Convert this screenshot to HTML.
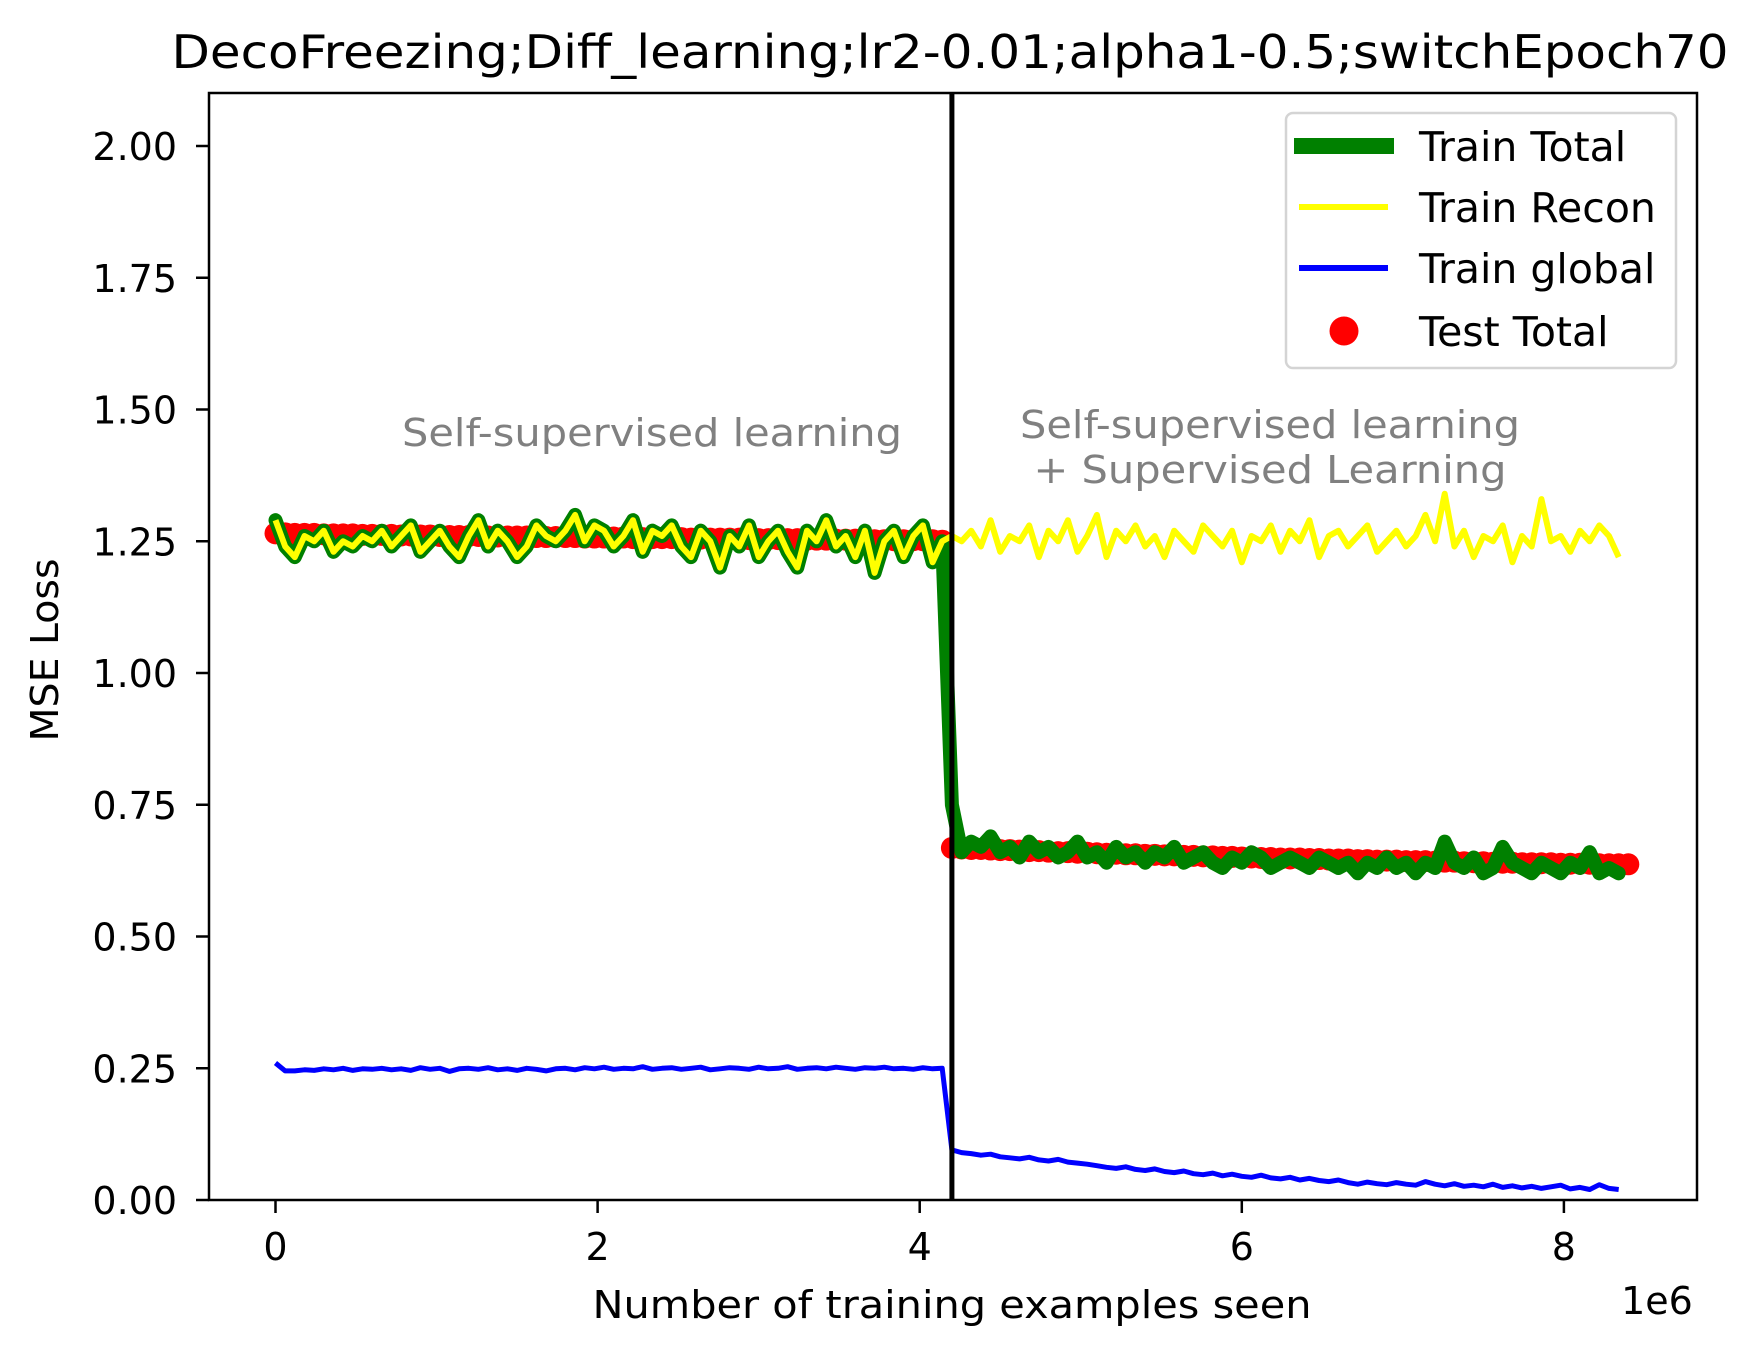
<!DOCTYPE html>
<html><head><meta charset="utf-8"><style>
html,body{margin:0;padding:0;background:#fff;}
svg{display:block;font-family:"DejaVu Sans","Liberation Sans",sans-serif;}
</style></head><body>
<svg id="chart" width="1763" height="1357" viewBox="0 0 1763 1357" xmlns="http://www.w3.org/2000/svg">
<rect x="0" y="0" width="1763" height="1357" fill="#fff"/>
<text x="950" y="68" font-size="46" text-anchor="middle" textLength="1557" lengthAdjust="spacingAndGlyphs">DecoFreezing;Diff_learning;lr2-0.01;alpha1-0.5;switchEpoch70</text>
<g id="plot"></g>
<rect x="209" y="93" width="1488" height="1107" fill="none" stroke="#000" stroke-width="2.5"/>
<text x="652" y="446" font-size="38" fill="#808080" text-anchor="middle" textLength="500" lengthAdjust="spacingAndGlyphs">Self-supervised learning</text>
<text x="1270" y="438" font-size="38" fill="#808080" text-anchor="middle" textLength="500" lengthAdjust="spacingAndGlyphs">Self-supervised learning</text>
<text x="1270" y="483" font-size="38" fill="#808080" text-anchor="middle" textLength="473" lengthAdjust="spacingAndGlyphs">+ Supervised Learning</text>
<g id="axes"></g>
<text x="952" y="1318" font-size="38" text-anchor="middle" textLength="719" lengthAdjust="spacingAndGlyphs">Number of training examples seen</text>
<text x="1657" y="1314" font-size="38" text-anchor="middle">1e6</text>
<text x="0" y="0" font-size="38" text-anchor="middle" textLength="183" lengthAdjust="spacingAndGlyphs" transform="translate(58,650) rotate(-90)">MSE Loss</text>
<g>
<rect x="1286" y="113" width="390" height="255" rx="7" fill="#fff" fill-opacity="0.8" stroke="#d4d4d4" stroke-width="2.5"/>
<line x1="1294" y1="146" x2="1394" y2="146" stroke="#008000" stroke-width="16"/>
<text x="1419" y="161" font-size="41">Train Total</text>
<line x1="1299" y1="207" x2="1388" y2="207" stroke="#ffff00" stroke-width="6"/>
<text x="1419" y="222" font-size="41">Train Recon</text>
<line x1="1299" y1="268" x2="1388" y2="268" stroke="#0000ff" stroke-width="6"/>
<text x="1419" y="283" font-size="41">Train global</text>
<circle cx="1344" cy="331" r="14.5" fill="#ff0000"/>
<text x="1419" y="346" font-size="41">Test Total</text>
</g>
</svg>
<script>
const xTicks = [0, 2, 4, 6, 8];
const yTicks = [0, 0.25, 0.5, 0.75, 1.0, 1.25, 1.5, 1.75, 2.0];
const yTickLabels = ["0.00","0.25","0.50","0.75","1.00","1.25","1.50","1.75","2.00"];
const switchX = 4.2;
const epochStep = 0.06;
const trainRecon = [
1.29,1.24,1.22,1.26,1.25,1.27,1.23,1.25,1.24,1.26,
1.25,1.27,1.24,1.26,1.28,1.23,1.25,1.27,1.24,1.22,
1.26,1.29,1.24,1.27,1.25,1.22,1.24,1.28,1.26,1.25,
1.27,1.30,1.25,1.28,1.27,1.24,1.26,1.29,1.23,1.27,
1.26,1.28,1.24,1.22,1.27,1.25,1.20,1.26,1.24,1.28,
1.22,1.25,1.27,1.23,1.20,1.27,1.25,1.29,1.24,1.26,
1.22,1.27,1.19,1.25,1.27,1.22,1.26,1.28,1.21,1.25,
1.26,1.25,1.27,1.24,1.29,1.23,1.26,1.25,1.28,1.22,
1.27,1.25,1.29,1.23,1.26,1.30,1.22,1.27,1.25,1.28,
1.24,1.26,1.22,1.27,1.25,1.23,1.28,1.26,1.24,1.27,
1.21,1.26,1.25,1.28,1.23,1.27,1.25,1.29,1.22,1.26,
1.27,1.24,1.26,1.28,1.23,1.25,1.27,1.24,1.26,1.30,
1.25,1.34,1.24,1.27,1.22,1.26,1.25,1.28,1.21,1.26,
1.24,1.33,1.25,1.26,1.23,1.27,1.25,1.28,1.26,1.22];
const trainTotal = [
1.29,1.24,1.22,1.26,1.25,1.27,1.23,1.25,1.24,1.26,
1.25,1.27,1.24,1.26,1.28,1.23,1.25,1.27,1.24,1.22,
1.26,1.29,1.24,1.27,1.25,1.22,1.24,1.28,1.26,1.25,
1.27,1.30,1.25,1.28,1.27,1.24,1.26,1.29,1.23,1.27,
1.26,1.28,1.24,1.22,1.27,1.25,1.20,1.26,1.24,1.28,
1.22,1.25,1.27,1.23,1.20,1.27,1.25,1.29,1.24,1.26,
1.22,1.27,1.19,1.25,1.27,1.22,1.26,1.28,1.21,1.25,
0.75,0.66,0.68,0.67,0.69,0.66,0.67,0.65,0.68,0.66,
0.67,0.65,0.66,0.68,0.65,0.66,0.64,0.67,0.65,0.66,
0.64,0.66,0.65,0.67,0.64,0.65,0.66,0.64,0.63,0.65,
0.64,0.66,0.65,0.63,0.64,0.65,0.64,0.63,0.65,0.64,
0.63,0.64,0.62,0.64,0.63,0.65,0.63,0.64,0.62,0.64,
0.63,0.68,0.64,0.63,0.65,0.62,0.63,0.67,0.64,0.63,
0.62,0.64,0.63,0.62,0.64,0.63,0.66,0.62,0.63,0.62];
const trainGlobal = [
0.26,0.245,0.245,0.247,0.246,0.249,0.247,0.25,0.246,0.249,
0.248,0.25,0.247,0.249,0.246,0.251,0.248,0.25,0.244,0.249,
0.25,0.248,0.251,0.247,0.249,0.246,0.25,0.248,0.245,0.249,
0.25,0.247,0.251,0.249,0.252,0.248,0.25,0.249,0.253,0.248,
0.25,0.251,0.248,0.25,0.252,0.247,0.249,0.251,0.25,0.248,
0.252,0.249,0.25,0.253,0.248,0.25,0.251,0.249,0.252,0.25,
0.248,0.251,0.25,0.252,0.249,0.25,0.248,0.251,0.249,0.25,
0.095,0.09,0.088,0.085,0.087,0.082,0.08,0.078,0.081,0.076,
0.074,0.077,0.072,0.07,0.068,0.065,0.062,0.06,0.063,0.058,
0.056,0.059,0.054,0.052,0.055,0.05,0.048,0.051,0.046,0.049,
0.045,0.043,0.047,0.042,0.04,0.043,0.038,0.041,0.037,0.035,
0.038,0.033,0.03,0.034,0.031,0.029,0.033,0.03,0.028,0.035,
0.03,0.027,0.031,0.026,0.028,0.025,0.03,0.024,0.027,0.023,
0.026,0.022,0.025,0.028,0.021,0.024,0.02,0.029,0.022,0.02];
const testTotal = [
1.265,1.265,1.264,1.264,1.264,1.263,1.263,1.263,1.263,1.262,
1.262,1.262,1.262,1.261,1.261,1.261,1.261,1.26,1.26,1.26,
1.26,1.26,1.259,1.259,1.259,1.259,1.259,1.258,1.258,1.258,
1.258,1.258,1.257,1.257,1.257,1.257,1.257,1.256,1.256,1.256,
1.256,1.256,1.256,1.255,1.255,1.255,1.255,1.255,1.255,1.254,
1.254,1.254,1.254,1.254,1.254,1.253,1.253,1.253,1.253,1.253,
1.253,1.253,1.252,1.252,1.252,1.252,1.252,1.252,1.252,1.251,
0.668,0.667,0.666,0.666,0.665,0.664,0.664,0.663,0.662,0.662,
0.661,0.66,0.66,0.659,0.659,0.658,0.657,0.657,0.656,0.656,
0.655,0.655,0.654,0.654,0.653,0.653,0.652,0.652,0.651,0.651,
0.65,0.65,0.649,0.649,0.648,0.648,0.648,0.647,0.647,0.646,
0.646,0.646,0.645,0.645,0.644,0.644,0.644,0.643,0.643,0.643,
0.642,0.642,0.642,0.641,0.641,0.641,0.64,0.64,0.64,0.639,
0.639,0.639,0.639,0.638,0.638,0.638,0.638,0.637,0.637,0.637,0.637];

const NS = "http://www.w3.org/2000/svg";
const X0 = 275.5, XPER = 161.05, Y0 = 1200, YPER = 527;
function sx(v){ return X0 + v * XPER; }
function sy(v){ return Y0 - v * YPER; }
function mk(tag, attrs, parent){ const e = document.createElementNS(NS, tag); for (const k in attrs) e.setAttribute(k, attrs[k]); parent.appendChild(e); return e; }
const plot = document.getElementById('plot');
const axes = document.getElementById('axes');
function pts(arr, a, b){ const p=[]; for(let i=a;i<b;i++) p.push(sx(i*epochStep).toFixed(1)+','+sy(arr[i]).toFixed(1)); return p.join(' '); }

for (let i = 0; i < testTotal.length; i++) {
  const c = mk('circle', {cx: sx(i*epochStep), cy: sy(testTotal[i]), r: 11, fill: '#ff0000'}, plot);
  
  
}
const tt = mk('polyline', {points: pts(trainTotal, 0, trainTotal.length), fill: 'none', stroke: '#008000', 'stroke-width': 14, 'stroke-linejoin': 'round', 'stroke-linecap': 'round'}, plot);


const tr = mk('polyline', {points: pts(trainRecon, 0, trainRecon.length), fill: 'none', stroke: '#ffff00', 'stroke-width': 6, 'stroke-linejoin': 'round'}, plot);


const tg = mk('polyline', {points: pts(trainGlobal, 0, trainGlobal.length), fill: 'none', stroke: '#0000ff', 'stroke-width': 5, 'stroke-linejoin': 'round'}, plot);


const sl = mk('line', {x1: sx(switchX), x2: sx(switchX), y1: 93, y2: 1200, stroke: '#000', 'stroke-width': 5}, plot);



xTicks.forEach(t => {
  const x = sx(t);
  const l = mk('line', {x1: x, x2: x, y1: 1200, y2: 1213, stroke: '#000', 'stroke-width': 2.5}, axes);
  
  
  const tx = mk('text', {x: x, y: 1260, 'font-size': 38, 'text-anchor': 'middle'}, axes);
  tx.textContent = String(t);
  
  
});
yTicks.forEach((t, i) => {
  const y = sy(t);
  const l = mk('line', {x1: 196, x2: 209, y1: y, y2: y, stroke: '#000', 'stroke-width': 2.5}, axes);
  
  
  const tx = mk('text', {x: 177, y: y + 14, 'font-size': 38, 'text-anchor': 'end'}, axes);
  tx.textContent = yTickLabels[i];
  
  
});
</script>
</body></html>
